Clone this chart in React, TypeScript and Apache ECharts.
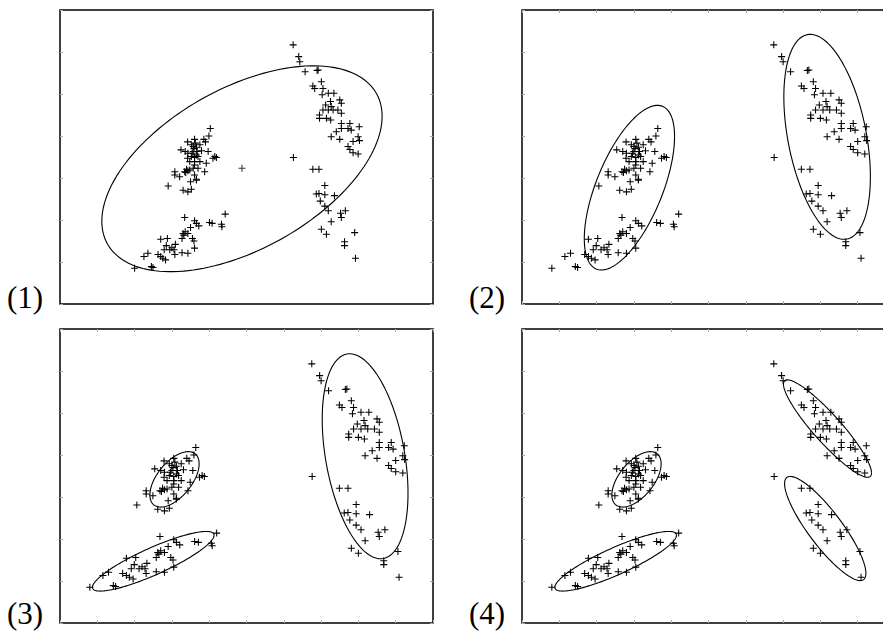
import React, { useEffect, useRef } from "react";
import * as echarts from "echarts";

// Observations (x, y) — same sample in all four panels
const clusterA: number[][] = [
  [3.64, 4.18], [3.59, 4.0], [3.4, 3.92], [3.46, 3.86], [2.79, 3.86], [3.05, 3.92], [3.08, 3.83],
  [2.93, 3.79], [3.0, 3.75], [3.12, 3.73], [3.25, 3.79], [2.54, 3.67], [2.7, 3.63], [2.8, 3.59],
  [3.0, 3.63], [3.15, 3.63], [3.31, 3.65], [3.56, 3.63], [3.81, 3.51], [3.87, 3.49], [3.74, 3.47],
  [2.93, 3.51], [3.05, 3.49], [3.18, 3.51], [2.79, 3.47], [2.87, 3.39], [3.05, 3.39], [3.25, 3.39],
  [3.49, 3.35], [3.05, 3.31], [3.0, 3.23], [2.75, 3.21], [2.8, 3.17], [2.68, 3.15], [2.87, 3.19],
  [3.18, 3.23], [3.43, 3.15], [2.31, 3.15], [2.31, 3.07], [2.49, 3.03], [3.05, 3.07], [3.12, 2.97],
  [2.72, 3.13], [2.9, 2.91], [3.12, 2.95], [2.06, 2.81], [2.62, 2.71], [2.8, 2.67], [2.93, 2.73],
  [3.03, 3.7], [3.12, 3.55], [2.96, 3.59],
];
const clusterB: number[][] = [
  [2.68, 2.06], [3.05, 1.98], [3.12, 1.92], [3.21, 1.86], [3.61, 1.94], [3.71, 1.92], [4.06, 1.9],
  [4.08, 1.84], [4.2, 2.14], [2.9, 1.82], [2.7, 1.72], [2.62, 1.68], [2.65, 1.64], [2.8, 1.68],
  [2.97, 1.56], [3.03, 1.5], [2.58, 1.56], [3.05, 1.33], [1.78, 1.54], [2.03, 1.56], [1.99, 1.39],
  [2.33, 1.42], [1.91, 1.29], [2.12, 1.29], [2.28, 1.29], [2.31, 1.18], [2.58, 1.22], [2.8, 1.21],
  [1.68, 1.18], [1.78, 1.13], [1.86, 1.09], [1.96, 1.05], [1.3, 1.21], [1.15, 1.13], [0.8, 0.85],
  [1.43, 0.89], [1.49, 0.87], [2.2, 1.34],
];
const clusterC: number[][] = [
  [6.75, 6.17], [6.96, 5.89], [7.0, 5.77], [7.2, 5.53], [7.65, 5.56], [7.69, 5.57], [7.49, 5.19],
  [7.56, 5.13], [7.81, 5.29], [7.87, 5.13], [7.84, 4.98], [8.07, 5.02], [8.28, 5.02], [7.97, 4.74],
  [8.15, 4.82], [8.18, 4.7], [8.5, 4.86], [8.56, 4.78], [7.87, 4.62], [8.07, 4.62], [8.25, 4.62],
  [8.43, 4.62], [7.74, 4.5], [7.74, 4.42], [8.0, 4.42], [8.16, 4.38], [8.56, 4.54], [8.56, 4.3],
  [8.88, 4.3], [9.23, 4.22], [8.37, 4.1], [8.56, 4.18], [8.81, 4.18], [8.93, 4.14], [9.19, 3.98],
  [9.24, 3.89], [8.5, 3.92], [9.0, 3.87], [8.81, 3.75], [8.88, 3.68], [9.0, 3.6], [9.19, 3.57],
  [8.18, 3.98],
];
const clusterD: number[][] = [
  [6.76, 3.49], [7.49, 3.21], [7.72, 3.21], [7.94, 2.82], [7.62, 2.62], [7.72, 2.63], [7.94, 2.6],
  [8.3, 2.58], [7.77, 2.45], [7.94, 2.33], [8.07, 2.22], [8.53, 2.16], [8.71, 2.22], [8.56, 2.06],
  [8.18, 1.96], [7.81, 1.78], [8.0, 1.66], [9.06, 1.7], [8.68, 1.48], [8.68, 1.39], [9.09, 1.09],
];

// Fitted ellipses: [centreX, centreY, halfWidthX, halfHeightY, correlation]
const ellipses1: number[][] = [[4.83, 3.22, 5.26, 2.45, 0.51]];
const centres1: number[][] = [[4.83, 3.23]];
const ellipses2: number[][] = [
  [2.88, 2.77, 1.21, 1.96, 0.62],
  [8.18, 3.98, 1.16, 2.44, -0.39],
];
const ellipses3: number[][] = [
  [3.07, 3.42, 0.66, 0.66, 0.56],
  [2.5, 1.47, 1.63, 0.71, 0.87],
  [8.18, 3.97, 1.15, 2.44, -0.36],
];
const ellipses4: number[][] = [
  [3.07, 3.42, 0.66, 0.66, 0.56],
  [2.51, 1.47, 1.63, 0.71, 0.87],
  [8.19, 4.63, 1.18, 1.16, -0.91],
  [8.13, 2.25, 1.09, 1.24, -0.86],
];

const panelLabels = ["(1)", "(2)", "(3)", "(4)"];
const xRanges: number[][] = [[-2, 12], [0, 10], [0, 10], [0, 10]];
const yRange = [0, 7];

const PLUS = "path://M3.4,0H4.6V8H3.4ZM0,3.4H8V4.6H0Z";

export default function App() {
  const ref = useRef<HTMLDivElement>(null);
  useEffect(() => {
    if (!ref.current) return;
    const chart = echarts.init(ref.current, null, { renderer: "svg" });
    const points = [...clusterA, ...clusterB, ...clusterC, ...clusterD];
    const ellipseSets = [ellipses1, ellipses2, ellipses3, ellipses4];
    const grids = [
      { left: 60, top: 10 },
      { left: 522, top: 10 },
      { left: 60, top: 329 },
      { left: 522, top: 329 },
    ].map((g) => ({
      ...g,
      width: 373,
      height: 294,
      show: true,
      borderColor: "#000",
      borderWidth: 1.5,
      backgroundColor: "transparent",
    }));

    const xAxis: any[] = [];
    const yAxis: any[] = [];
    const series: any[] = [];
    const tickStyle = { show: true, inside: true, length: 3, lineStyle: { color: "#aaa", width: 1 } };
    for (let i = 0; i < 4; i++) {
      const showX = i !== 0;
      ["bottom", "top"].forEach((pos) => {
        xAxis.push({
          gridIndex: i,
          type: "value",
          position: pos,
          min: xRanges[i][0],
          max: xRanges[i][1],
          interval: 1,
          axisLine: { show: false, onZero: false },
          axisLabel: { show: false },
          splitLine: { show: false },
          axisTick: showX ? tickStyle : { show: false },
        });
      });
      ["left", "right"].forEach((pos) => {
        yAxis.push({
          gridIndex: i,
          type: "value",
          position: pos,
          min: yRange[0],
          max: yRange[1],
          interval: 1,
          axisLine: { show: false, onZero: false },
          axisLabel: { show: false },
          splitLine: { show: false },
          axisTick: tickStyle,
        });
      });
      series.push({
        type: "scatter",
        xAxisIndex: i * 2,
        yAxisIndex: i * 2,
        data: points,
        symbol: PLUS,
        symbolSize: 7,
        itemStyle: { color: "#000", opacity: 1 },
        silent: true,
      });
      series.push({
        type: "custom",
        xAxisIndex: i * 2,
        yAxisIndex: i * 2,
        data: ellipseSets[i],
        dimensions: ["cx", "cy", "w", "h", "r"],
        encode: { x: 0, y: 1 },
        clip: true,
        silent: true,
        renderItem: (params: any, api: any) => {
          const cx = api.value(0);
          const cy = api.value(1);
          const w = api.value(2);
          const h = api.value(3);
          const r = api.value(4);
          const s = Math.sqrt(1 - r * r);
          const pts: number[][] = [];
          const n = 160;
          for (let k = 0; k <= n; k++) {
            const t = (k / n) * Math.PI * 2;
            pts.push(api.coord([cx + w * Math.cos(t), cy + h * (r * Math.cos(t) + s * Math.sin(t))]));
          }
          return {
            type: "polyline",
            shape: { points: pts },
            style: { fill: "none", stroke: "#000", lineWidth: 1.1 },
          };
        },
      });
    }
    series.push({
      type: "scatter",
      xAxisIndex: 0,
      yAxisIndex: 0,
      data: centres1,
      symbol: PLUS,
      symbolSize: 7,
      itemStyle: { color: "#000" },
      silent: true,
    });

    const labelPos = [
      [7, 300],
      [469, 300],
      [7, 616],
      [469, 616],
    ];
    const graphic = panelLabels.map((t, i) => ({
      type: "text",
      left: labelPos[i][0],
      top: labelPos[i][1] - 18,
      style: {
        text: t,
        font: "31px 'Liberation Serif', 'DejaVu Serif', serif",
        fill: "#000",
      },
    }));

    chart.setOption({
      animation: false,
      backgroundColor: "#fff",
      grid: grids,
      xAxis,
      yAxis,
      series,
      graphic,
    });
    return () => chart.dispose();
  }, []);
  return (
    <div
      style={{
        position: "absolute",
        left: 0,
        top: 0,
        width: 883,
        height: 636,
        overflow: "hidden",
        background: "#fff",
      }}
    >
      <div ref={ref} style={{ width: 910, height: 636 }} />
    </div>
  );
}
